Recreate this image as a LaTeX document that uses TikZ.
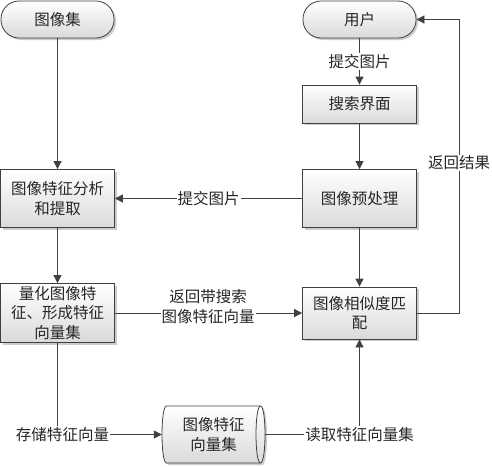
\documentclass[tikz,border=0pt]{standalone}
\usepackage{fontspec}
\setmainfont{Noto Sans CJK SC}
\usetikzlibrary{arrows.meta,shadows}
\definecolor{ln}{HTML}{404040}
\definecolor{boxbot}{HTML}{DADADA}
\definecolor{txt}{HTML}{262626}
\begin{document}
\begin{tikzpicture}[x=1pt,y=-1pt,
  font=\fontsize{15.5}{19.5}\selectfont,
  shade/.style={draw=ln, line width=0.8pt, top color=white, bottom color=boxbot,
    drop shadow={shadow xshift=2pt,shadow yshift=-2pt,fill=black,opacity=0.2}},
  box/.style={shade, align=center, inner sep=1pt, text=txt},
  term/.style={box, rounded corners=18pt, minimum width=113pt, minimum height=37pt},
  proc/.style={box, minimum width=114pt},
  arr/.style={draw=ln, line width=0.8pt, -{Triangle[length=8pt,width=8pt]}},
  lbl/.style={fill=white, inner sep=1pt, align=center, text=txt}]
\useasboundingbox (0,0) rectangle (492,466);
\node[term] (set)  at (57.5,19.5) {图像集};
\node[term] (user) at (359.5,19.5) {用户};
\node[proc, minimum height=38pt] (search) at (359.5,104) {搜索界面};
\node[proc, minimum height=58pt] (pre) at (359.5,198.5) {图像预处理};
\node[proc, minimum height=58pt] (ana) at (57.5,198.5) {图像特征分析\\和提取};
\node[proc, minimum height=59pt] (quant) at (57.5,313) {量化图像特\\征、形成特征\\向量集};
\node[proc, minimum height=52pt] (match) at (359.5,313) {图像相似度匹\\配};
% cylinder (horizontal, open end at right)
\path[shade] (166.5,406) -- (260.5,406)
  .. controls (266.5,406) and (266.5,463) .. (260.5,463) -- (166.5,463)
  .. controls (160.5,463) and (160.5,406) .. (166.5,406) -- cycle;
\draw[draw=ln, line width=0.8pt] (260.5,406) .. controls (254.5,406) and (254.5,463) .. (260.5,463);
\node[minimum width=103pt, minimum height=57pt, inner sep=0pt, align=center, text=txt] (cyl) at (213.5,434.5) {图像特征\\向量集};
\coordinate (rt) at (459,19.5);
\draw[arr] (set) -- (ana);
\draw[arr] (user) -- node[lbl]{提交图片} (search);
\draw[arr] (search) -- (pre);
\draw[arr] (pre) -- node[lbl]{提交图片} (ana);
\draw[arr] (ana) -- (quant);
\draw[arr] (quant) -- (match);
\node[lbl] (qlbl) at (208,306.5) {返回带搜索\\图像特征向量};
\draw[arr] (pre) -- (match);
\draw[arr] (match.east) -| (rt) -- (user.east);
\node[lbl] (rlbl) at (459,163) {返回结果};
\draw[arr] (quant.south) |- node[lbl,pos=0.5,xshift=5pt]{存储特征向量} (cyl.west);
\draw[arr] (cyl.east) -| node[lbl,pos=0.5]{读取特征向量集} (match.south);
\end{tikzpicture}
\end{document}
